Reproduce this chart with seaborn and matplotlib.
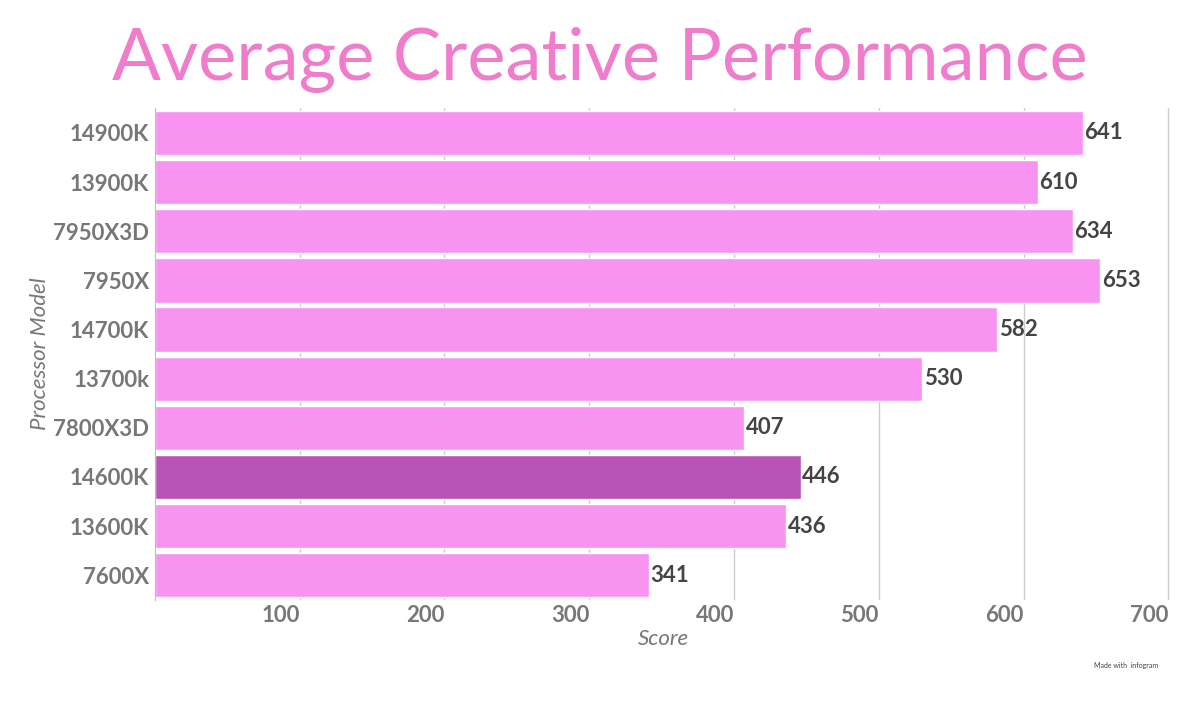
import matplotlib
matplotlib.use('Agg')
import matplotlib.pyplot as plt
import seaborn as sns
import pandas as pd

models = ['14900K', '13900K', '7950X3D', '7950X', '14700K', '13700k', '7800X3D', '14600K', '13600K', '7600X']
scores = [641, 610, 634, 653, 582, 530, 407, 446, 436, 341]
highlight = '14600K'

df = pd.DataFrame({'model': models, 'score': scores})
palette = {m: ('#B953B6' if m == highlight else '#F893F2') for m in models}

sns.set_style('white')
plt.rcParams['font.family'] = ['Lato', 'DejaVu Sans']

fig = plt.figure(figsize=(12, 7.04), dpi=100)
ax = fig.add_axes([0.129, 0.148, 0.847, 0.698])
sns.barplot(data=df, x='score', y='model', hue='model', palette=palette,
            order=models, width=0.9, saturation=1, legend=False, ax=ax)

for i, v in enumerate(scores):
    ax.text(v + 1, i, str(v), va='center', ha='left', fontsize=16,
            fontweight='bold', color='#444444')

ax.set_xlim(0, 702)
ax.set_xticks([100, 200, 300, 400, 500, 600, 700])
ax.set_xticklabels(['100', '200', '300', '400', '500', '600', '700'], ha='right')
ax.tick_params(axis='x', length=0, labelsize=16, colors='#777777', pad=4)
ax.tick_params(axis='y', length=0, labelsize=16, colors='#777777', pad=4)
for lbl in ax.get_xticklabels() + ax.get_yticklabels():
    lbl.set_fontweight('bold')
ax.xaxis.grid(True, color='#cccccc', linewidth=1)
ax.set_axisbelow(True)
for s in ['top', 'right', 'bottom']:
    ax.spines[s].set_visible(False)
ax.spines['left'].set_color('#bbbbbb')
ax.set_xlabel('Score', fontsize=16, style='italic', color='#777777', labelpad=2)
ax.set_ylabel('Processor Model', fontsize=16, style='italic', color='#777777', labelpad=2)

fig.text(0.5, 0.915, 'Average Creative Performance', ha='center', va='center',
         fontsize=52, color='#F07DCB')
fig.text(0.965, 0.055, 'Made with  infogram', ha='right', va='center', fontsize=5, color='#444444')

plt.savefig('out.png', dpi=100)
